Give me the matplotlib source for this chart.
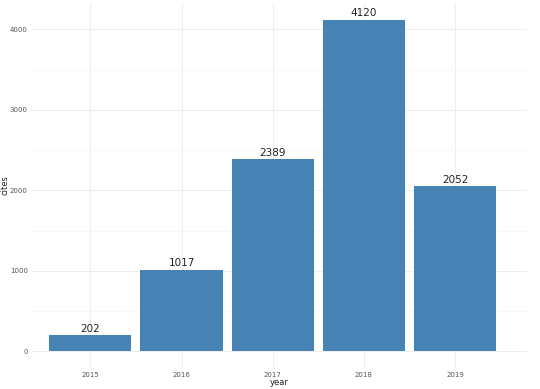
import numpy as np
import matplotlib.pyplot as plt

years = ["2015", "2016", "2017", "2018", "2019"]
cites = [202, 1017, 2389, 4120, 2052]

x = np.arange(1, len(years) + 1)

fig = plt.figure(figsize=(5.4, 3.89), dpi=100)
ax = fig.add_axes([32 / 540, 21 / 389, 495 / 540, 365 / 389])

ax.bar(x, cites, width=0.9, color="steelblue", zorder=2)
for xi, v in zip(x, cites):
    ax.text(xi, v + 15, str(v), ha="center", va="bottom", fontsize=7.5, color="#222222")

ax.set_xlim(0.36, 5.79)
ax.set_ylim(-206, 4326)
ax.set_xticks(x)
ax.set_xticklabels(years)
ax.set_yticks([0, 1000, 2000, 3000, 4000])
ax.set_yticks([500, 1500, 2500, 3500], minor=True)

ax.grid(True, which="major", color="#ededed", linewidth=0.7, zorder=0)
ax.grid(True, which="minor", axis="y", color="#f5f5f5", linewidth=0.5, zorder=0)
for s in ax.spines.values():
    s.set_visible(False)
ax.tick_params(which="both", length=0, labelsize=5, labelcolor="#555555", pad=3)

ax.set_xlabel("year", fontsize=6, color="#222222", labelpad=0)
ax.set_ylabel("cites", fontsize=6, color="#222222")
ax.yaxis.set_label_coords(-0.045, 0.5)

fig.savefig("out.png", dpi=100)
